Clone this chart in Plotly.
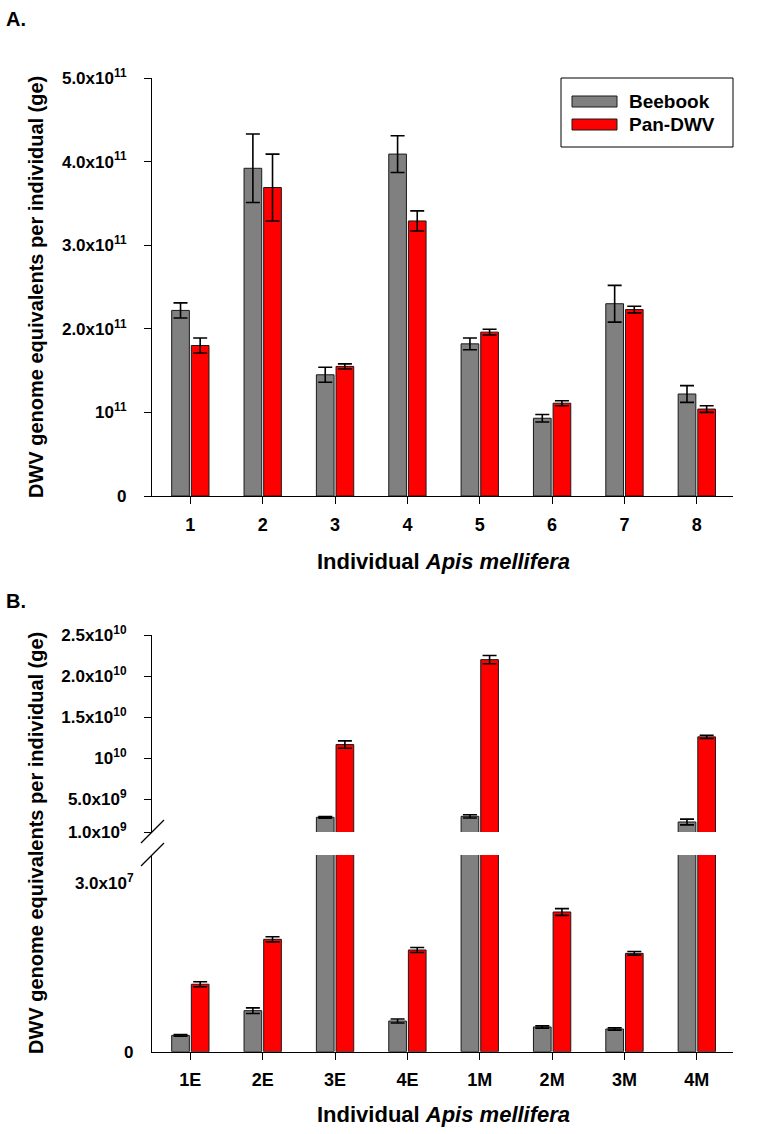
import plotly.graph_objects as go

# ---------------- data ----------------
categories_a = ["1", "2", "3", "4", "5", "6", "7", "8"]
beebook_a = [2.22e11, 3.92e11, 1.45e11, 4.09e11, 1.82e11, 0.93e11, 2.30e11, 1.22e11]
beebook_a_err = [0.09e11, 0.41e11, 0.09e11, 0.22e11, 0.07e11, 0.045e11, 0.22e11, 0.10e11]
pandwv_a = [1.80e11, 3.69e11, 1.55e11, 3.29e11, 1.96e11, 1.11e11, 2.23e11, 1.04e11]
pandwv_a_err = [0.09e11, 0.40e11, 0.03e11, 0.12e11, 0.035e11, 0.03e11, 0.04e11, 0.04e11]

categories_b = ["1E", "2E", "3E", "4E", "1M", "2M", "3M", "4M"]
beebook_b = [2.9e6, 7.3e6, 2.79e9, 5.46e6, 2.91e9, 4.4e6, 4.04e6, 2.22e9]
beebook_b_err = [0.15e6, 0.5e6, 0.1e9, 0.36e6, 0.2e9, 0.2e6, 0.2e6, 0.35e9]
pandwv_b = [1.20e7, 2.00e7, 1.165e10, 1.81e7, 2.20e10, 2.486e7, 1.75e7, 1.259e10]
pandwv_b_err = [0.045e7, 0.045e7, 0.45e9, 0.045e7, 0.5e9, 0.06e7, 0.032e7, 0.2e9]

ticks_a_vals = [0, 1e11, 2e11, 3e11, 4e11, 5e11]
ticks_a_text = ["0", "10<sup>11</sup>", "2.0x10<sup>11</sup>", "3.0x10<sup>11</sup>",
                "4.0x10<sup>11</sup>", "5.0x10<sup>11</sup>"]
ticks_bu_vals = [1e9, 5e9, 1e10, 1.5e10, 2e10, 2.5e10]
ticks_bu_text = ["1.0x10<sup>9</sup>", "5.0x10<sup>9</sup>", "10<sup>10</sup>",
                 "1.5x10<sup>10</sup>", "2.0x10<sup>10</sup>", "2.5x10<sup>10</sup>"]
ticks_bl_vals = [0, 3e7]
ticks_bl_text = ["0", "3.0x10<sup>7</sup>"]

series_names = ["Beebook", "Pan-DWV"]
y_title = "DWV genome equivalents per individual (ge)"
x_title = "Individual <i>Apis mellifera</i>"

# ---------------- layout helpers ----------------
W, H = 767, 1134
def fx(x):
    return x / W
def fy(y):
    return 1 - y / H

GRAY = "#808080"
RED = "#ff0000"
EDGE = "#1a1a1a"
FONT = "Liberation Sans"

fig = go.Figure()

def add_pair(cats, bee, bee_err, pan, pan_err, xa, ya):
    for name, vals, errs, col in [(series_names[0], bee, bee_err, GRAY),
                                  (series_names[1], pan, pan_err, RED)]:
        fig.add_trace(go.Bar(
            x=cats, y=vals, name=name,
            marker=dict(color=col, line=dict(color=EDGE, width=1)),
            error_y=dict(type="data", array=errs, visible=True, color="black",
                         thickness=1.6, width=7),
            xaxis=xa, yaxis=ya, showlegend=False))

add_pair(categories_a, beebook_a, beebook_a_err, pandwv_a, pandwv_a_err, "x", "y")
add_pair(categories_b, beebook_b, beebook_b_err, pandwv_b, pandwv_b_err, "x2", "y2")
add_pair(categories_b, beebook_b, beebook_b_err, pandwv_b, pandwv_b_err, "x3", "y3")

xdom = [fx(152), fx(733)]
xrange_ = [-0.53, 7.5]
ytickfont = dict(family=FONT, size=17, color="black", weight="bold")
xtickfont = dict(family=FONT, size=18, color="black", weight="bold")

common_x = dict(domain=xdom, range=xrange_, type="category", showgrid=False, zeroline=False,
                showline=True, linecolor="black", linewidth=1.2, ticks="outside", ticklen=7,
                tickcolor="black", tickwidth=1.2, tickfont=xtickfont, ticklabelstandoff=5,
                automargin=False)
common_y = dict(showgrid=False, zeroline=False, showline=True, linecolor="black", linewidth=1.2,
                ticks="outside", ticklen=7, tickcolor="black", tickwidth=1.2, tickfont=ytickfont,
                tickmode="array", ticklabelstandoff=14, automargin=False)

fig.update_layout(
    template="none",
    width=W, height=H, autosize=False,
    margin=dict(l=0, r=0, t=0, b=0, pad=0, autoexpand=False),
    paper_bgcolor="white", plot_bgcolor="white",
    barmode="group", bargap=0.457, bargroupgap=0.1,
    font=dict(family=FONT, color="black"),
    xaxis=dict(anchor="y", categoryarray=categories_a, **common_x),
    yaxis=dict(anchor="x", domain=[fy(496), fy(78)], range=[0, 5e11],
               tickvals=ticks_a_vals, ticktext=ticks_a_text, **common_y),
    xaxis2=dict(anchor="y2", domain=xdom, range=xrange_, type="category",
                categoryarray=categories_b, visible=False, automargin=False),
    yaxis2=dict(anchor="x2", domain=[fy(832), fy(635)], range=[1e9, 2.5e10],
                tickvals=ticks_bu_vals, ticktext=ticks_bu_text, **common_y),
    xaxis3=dict(anchor="y3", categoryarray=categories_b, **common_x),
    yaxis3=dict(anchor="x3", domain=[fy(1051.7), fy(855)], range=[0, 3.5e7],
                tickvals=ticks_bl_vals, ticktext=ticks_bl_text,
                **{**common_y, "ticks": ""}),
)

ann = []
# panel labels
ann.append(dict(text="<b>A.</b>", x=fx(4), y=fy(19), xanchor="left", yanchor="middle",
                font=dict(size=20, family=FONT)))
ann.append(dict(text="<b>B.</b>", x=fx(4), y=fy(601), xanchor="left", yanchor="middle",
                font=dict(size=20, family=FONT)))
# y titles
for yc in (287, 843):
    ann.append(dict(text="<b>" + y_title + "</b>", x=fx(36), y=fy(yc), textangle=-90,
                    xanchor="center", yanchor="middle", font=dict(size=20, family=FONT)))
# x titles
for yc in (562, 1114):
    ann.append(dict(text="<b>" + x_title + "</b>", x=fx(443), y=fy(yc),
                    xanchor="center", yanchor="middle", font=dict(size=22, family=FONT)))
# legend texts
for yc, name in ((101.5, series_names[0]), (124.5, series_names[1])):
    ann.append(dict(text="<b>" + name + "</b>", x=fx(627), y=fy(yc), xanchor="left",
                    yanchor="middle", font=dict(size=19, family=FONT)))
for a in ann:
    a.update(xref="paper", yref="paper", showarrow=False)

shapes = []
# legend box and swatches
shapes.append(dict(type="rect", x0=fx(561), x1=fx(733), y0=fy(147), y1=fy(78),
                   line=dict(color="black", width=1), fillcolor="white"))
shapes.append(dict(type="rect", x0=fx(572), x1=fx(617), y0=fy(107), y1=fy(96),
                   line=dict(color=EDGE, width=1), fillcolor=GRAY))
shapes.append(dict(type="rect", x0=fx(572), x1=fx(617), y0=fy(130), y1=fy(119),
                   line=dict(color=EDGE, width=1), fillcolor=RED))
# axis break marks
for yc in (832, 855):
    shapes.append(dict(type="line", x0=fx(141), y0=fy(yc + 11), x1=fx(164), y1=fy(yc - 12),
                       line=dict(color="black", width=1.3)))
for s in shapes:
    s.update(xref="paper", yref="paper", layer="above")
shapes[0]["layer"] = "below"

fig.update_layout(annotations=ann, shapes=shapes)
fig.write_html("out.html", config={"displayModeBar": False},
               post_script="document.body.style.margin='0';document.body.style.overflow='hidden';")
